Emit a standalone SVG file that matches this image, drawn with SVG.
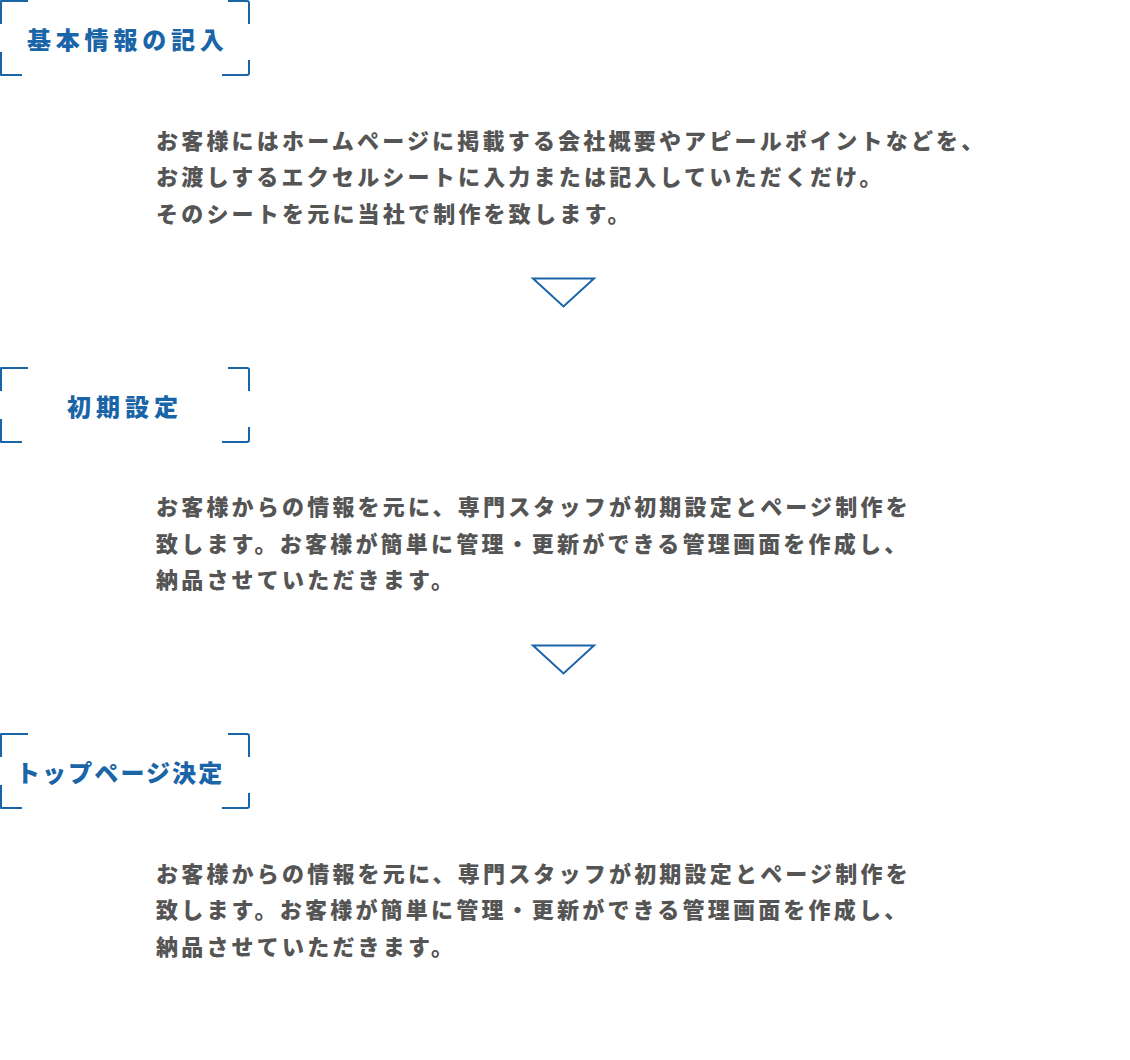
<svg xmlns="http://www.w3.org/2000/svg" width="1130" height="1060" viewBox="0 0 1130 1060">
<style>
.frame{fill:none;stroke:#1a64a8;stroke-width:2;stroke-linejoin:round;stroke-linecap:butt}
.title{font-family:"Noto Sans CJK JP","Noto Sans",sans-serif;font-weight:900;font-size:24px;fill:#1a64a8}
.body{font-family:"Noto Sans CJK JP","Noto Sans",sans-serif;font-weight:900;font-size:22px;fill:#555555;letter-spacing:3.2px}
.arrow{fill:none;stroke:#1a64a8;stroke-width:2;stroke-linejoin:miter}
</style>
<defs>
<g id="bracket">
<path class="frame" d="M1,24 V1 H28 M228,1 H247 Q249,1 249,3 V24 M1,52 V75 H22 M222,75 H247 Q249,75 249,73 V60"/>
</g>
</defs>
<rect width="1130" height="1060" fill="#ffffff"/>
<g id="step1">
<use href="#bracket"/>
<text class="title" x="27" y="49" letter-spacing="4.8">基本情報の記入</text>
</g>
<g id="text1">
<text class="body" x="156" y="148.5">お客様にはホームページに掲載する会社概要やアピールポイントなどを、</text>
<text class="body" x="156" y="185">お渡しするエクセルシートに入力または記入していただくだけ。</text>
<text class="body" x="156" y="221.5">そのシートを元に当社で制作を致します。</text>
</g>
<g id="step2">
<use href="#bracket" y="367"/>
<text class="title" x="67" y="415.5" letter-spacing="5">初期設定</text>
</g>
<g id="text2">
<text class="body" x="156" y="515">お客様からの情報を元に、専門スタッフが初期設定とページ制作を</text>
<text class="body" x="156" y="551.5">致します。お客様が簡単に管理・更新ができる管理画面を作成し、</text>
<text class="body" x="156" y="588">納品させていただきます。</text>
</g>
<g id="step3">
<use href="#bracket" y="733"/>
<text class="title" x="16" y="782" letter-spacing="2.1">トップページ決定</text>
</g>
<g id="text3">
<text class="body" x="156" y="881.5">お客様からの情報を元に、専門スタッフが初期設定とページ制作を</text>
<text class="body" x="156" y="918">致します。お客様が簡単に管理・更新ができる管理画面を作成し、</text>
<text class="body" x="156" y="954.5">納品させていただきます。</text>
</g>
<g id="connectors">
<path class="arrow" d="M533,278.5 H594 L563.5,306.5 Z"/>
<path class="arrow" d="M533,645.5 H594 L563.5,673.5 Z"/>
</g>
</svg>
